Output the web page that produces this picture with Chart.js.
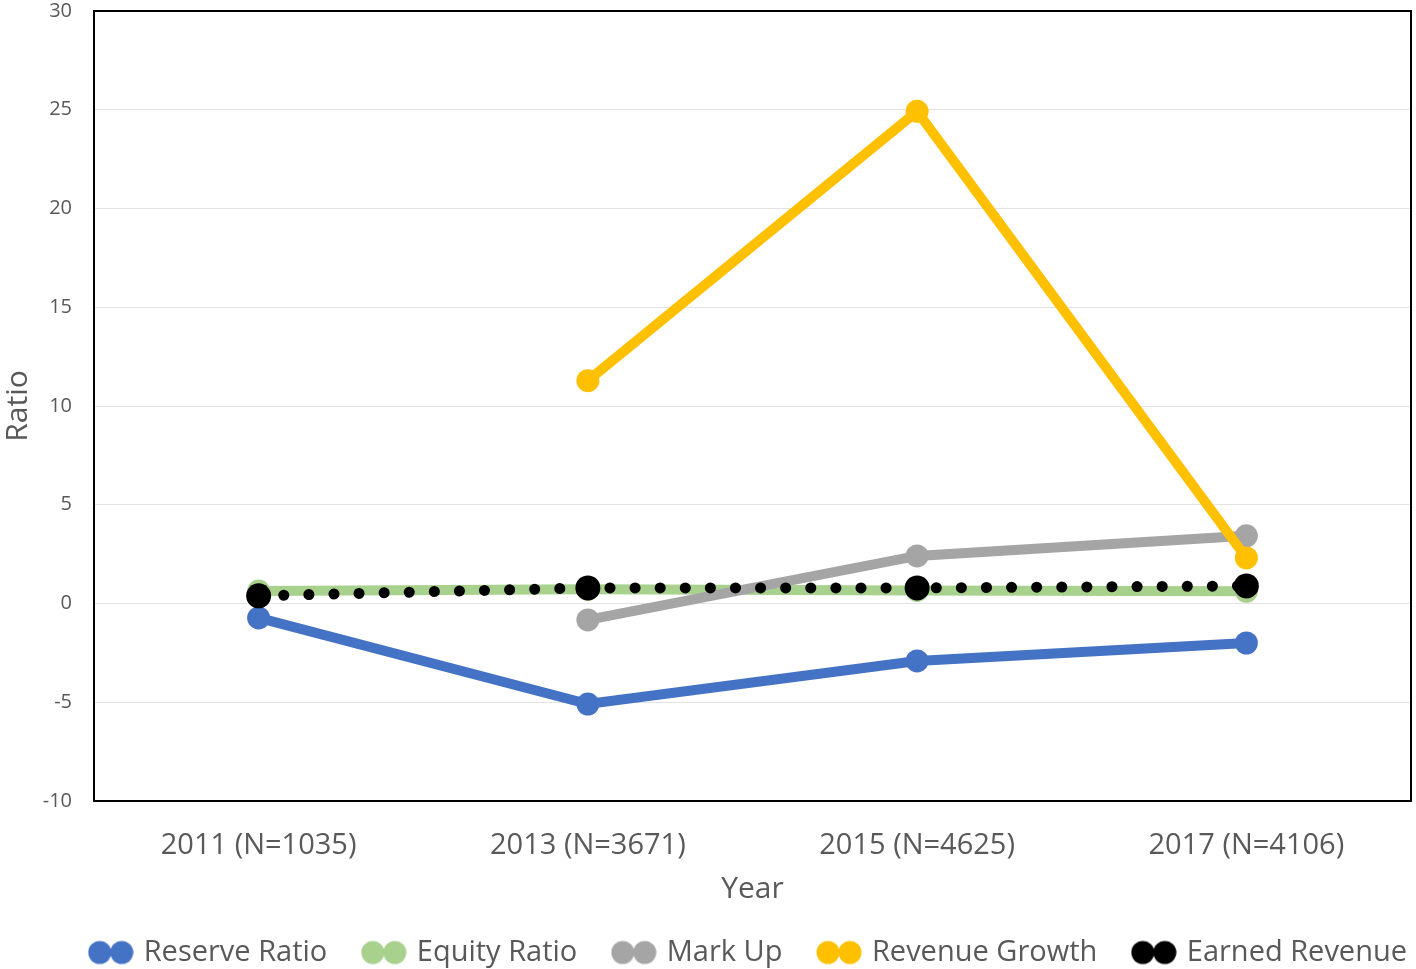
<!DOCTYPE html>
<html>
<head>
<meta charset="utf-8">
<script src="https://cdn.jsdelivr.net/npm/chart.js@4/dist/chart.umd.min.js"></script>
<style>
  html, body { margin: 0; padding: 0; background: #fff; }
  #wrap { width: 1416px; height: 969px; }
</style>
</head>
<body>
<div id="wrap"><canvas id="c"></canvas></div>
<script>
// Ratio trends by survey year.
var YEARS = ["2011 (N=1035)", "2013 (N=3671)", "2015 (N=4625)", "2017 (N=4106)"];
var RESERVE_RATIO = [-0.73, -5.09, -2.91, -2.0];
var EQUITY_RATIO = [0.63, 0.72, 0.66, 0.62];
var MARK_UP = [null, -0.83, 2.41, 3.43];
var REVENUE_GROWTH = [null, 11.28, 24.92, 2.31];
var EARNED_REVENUE = [0.39, 0.79, 0.79, 0.89];
var Y_TICKS = [-10, -5, 0, 5, 10, 15, 20, 25, 30];

var TEXT = "#595959";
var FONT = "'Open Sans', sans-serif";
var LEGEND_SHIFT = 34;

// two overlapping dots, like the spreadsheet legend swatch
function swatch(color) {
  var cv = document.createElement("canvas");
  cv.width = 46; cv.height = 26;
  var g = cv.getContext("2d");
  g.fillStyle = color;
  [12, 34].forEach(function (cx) {
    g.beginPath(); g.arc(cx, 13, 11.5, 0, Math.PI * 2); g.fill();
  });
  return cv;
}

function series(label, data, color, order, extra) {
  var d = {
    label: label, data: data, order: order,
    borderColor: color, backgroundColor: color,
    pointBackgroundColor: color, pointBorderColor: color,
    borderWidth: 10, pointRadius: 11.5, pointHoverRadius: 11.5, pointBorderWidth: 0,
    tension: 0, fill: false, spanGaps: false, _swatch: swatch(color)
  };
  return Object.assign(d, extra || {});
}

var datasets = [
  series("Reserve Ratio", RESERVE_RATIO, "#4472C4", 4),
  series("Equity Ratio", EQUITY_RATIO, "#A9D18E", 3),
  series("Mark Up", MARK_UP, "#A5A5A5", 2),
  series("Revenue Growth", REVENUE_GROWTH, "#FFC000", 1),
  series("Earned Revenue", EARNED_REVENUE, "#000000", 0,
    { borderWidth: 11, borderDash: [0.1, 25], borderCapStyle: "round", pointRadius: 12.5, pointHoverRadius: 12.5 })
];

// black box round the plot area; legend nudged right like the original
var frame = {
  id: "frame",
  afterLayout: function (chart) {
    if (chart.legend) { chart.legend.left += LEGEND_SHIFT; chart.legend.right += LEGEND_SHIFT; }
  },
  beforeDatasetsDraw: function (chart) {
    var a = chart.chartArea, ctx = chart.ctx;
    ctx.save();
    ctx.strokeStyle = "#000"; ctx.lineWidth = 2;
    ctx.strokeRect(a.left, a.top, a.right - a.left, a.bottom - a.top);
    ctx.restore();
  }
};

new Chart(document.getElementById("c"), {
  type: "line",
  data: { labels: YEARS, datasets: datasets },
  options: {
    responsive: true, maintainAspectRatio: false, animation: false,
    layout: { autoPadding: false, padding: { top: 11, right: 5, left: 0, bottom: -8 } },
    scales: {
      x: {
        offset: true,
        afterFit: function (s) { s.height = 99; },
        grid: { display: false, drawTicks: false },
        border: { display: true, color: "#000", width: 2 },
        ticks: { color: TEXT, font: { family: FONT, size: 29 }, padding: 27, maxRotation: 0 },
        title: { display: true, text: "Year", color: TEXT, font: { family: FONT, size: 30 }, padding: { top: 0, bottom: -7 } }
      },
      y: {
        min: -10, max: 30,
        afterBuildTicks: function (s) { s.ticks = Y_TICKS.map(function (v) { return { value: v }; }); },
        afterFit: function (s) { s.width = 94; s.paddingTop = 0; s.paddingBottom = 0; },
        grid: { color: "#E3E3E3", lineWidth: 1, drawTicks: false },
        border: { display: true, color: "#000", width: 2 },
        ticks: { color: TEXT, font: { family: FONT, size: 20 }, padding: 22 },
        title: { display: true, text: "Ratio", color: TEXT, font: { family: FONT, size: 30 }, padding: { top: 0, bottom: 0 } }
      }
    },
    plugins: {
      tooltip: { enabled: false },
      legend: {
        position: "bottom",
        align: "end",
        labels: {
          color: TEXT, font: { family: FONT, size: 29 },
          usePointStyle: true, pointStyleWidth: 37, padding: 38,
          generateLabels: function (chart) {
            return chart.data.datasets.map(function (ds, i) {
              return { text: ds.label, pointStyle: ds._swatch, fillStyle: ds.borderColor,
                       strokeStyle: ds.borderColor, lineWidth: 0, datasetIndex: i, fontColor: TEXT, hidden: false };
            });
          }
        }
      }
    }
  },
  plugins: [frame]
});
</script>
</body>
</html>
